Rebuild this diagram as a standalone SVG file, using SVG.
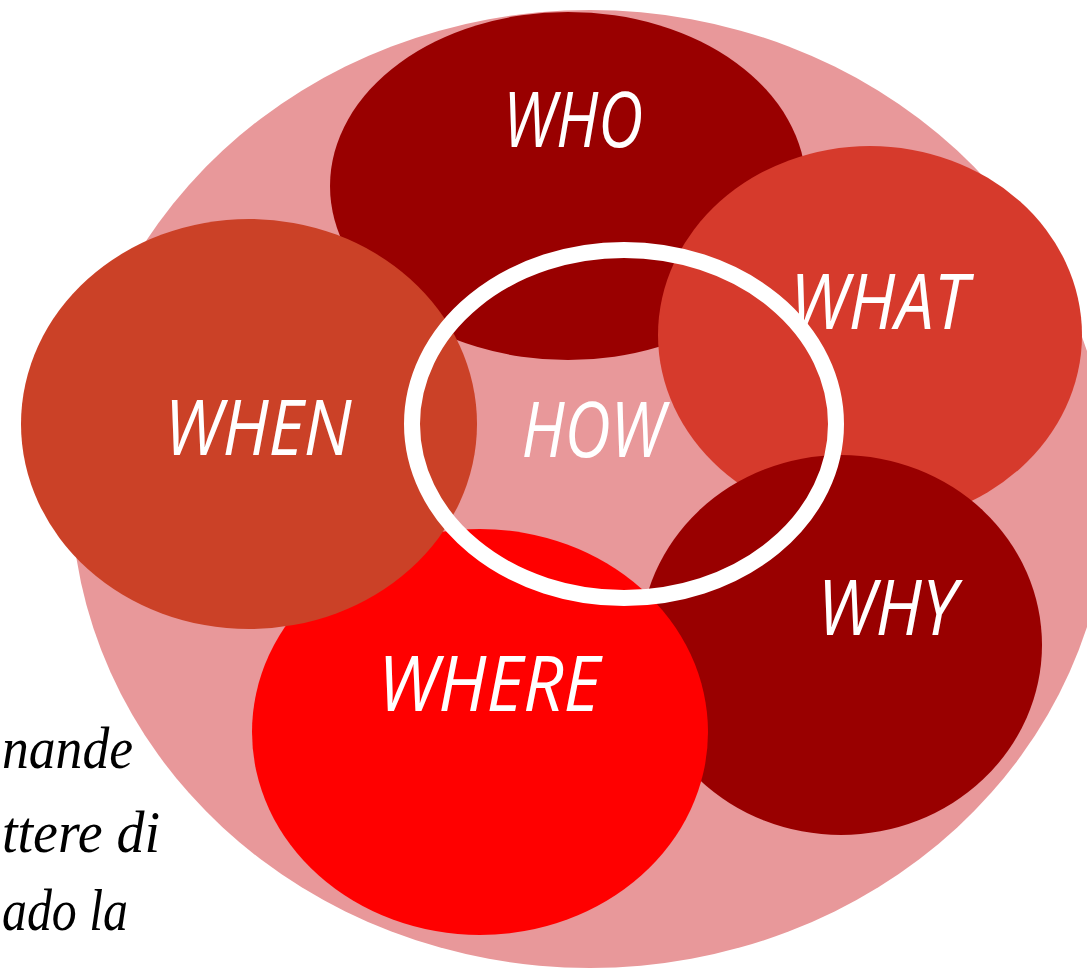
<svg xmlns="http://www.w3.org/2000/svg" width="1087" height="970" viewBox="0 0 1087 970">
<style>
.lbl{font-family:"Open Sans","Liberation Sans",sans-serif;font-style:italic;font-size:76px;fill:#ffffff;text-anchor:middle}
.body{font-family:"Liberation Serif","DejaVu Serif",serif;font-style:italic;font-size:60px;fill:#000000;text-anchor:start}
</style>
<rect width="1087" height="970" fill="#ffffff"/>
<g id="side-text">
<text class="body" x="2" y="768" textLength="131" lengthAdjust="spacingAndGlyphs">nande</text>
<text class="body" x="2" y="852" textLength="158" lengthAdjust="spacingAndGlyphs">ttere di</text>
<text class="body" x="2" y="930" textLength="126" lengthAdjust="spacingAndGlyphs">ado la</text>
</g>
<g id="background">
<ellipse cx="590" cy="489" rx="519" ry="479" fill="#E8989A"/>
</g>
<g id="who">
<ellipse cx="568" cy="186" rx="238" ry="174" fill="#990000"/>
<text class="lbl" x="573" y="147" textLength="140" lengthAdjust="spacingAndGlyphs">WHO</text>
</g>
<g id="what">
<ellipse cx="870" cy="335" rx="212" ry="189" fill="#D63A2C"/>
</g>
<g id="why">
<ellipse cx="841" cy="645" rx="201" ry="190" fill="#990000"/>
<text class="lbl" x="887" y="635" textLength="139" lengthAdjust="spacingAndGlyphs">WHY</text>
</g>
<g id="where">
<ellipse cx="480" cy="732" rx="228" ry="203" fill="#FF0000"/>
<text class="lbl" x="489" y="711" textLength="222" lengthAdjust="spacingAndGlyphs">WHERE</text>
</g>
<g id="when">
<ellipse cx="249" cy="424" rx="228" ry="205" fill="#CB4127"/>
<text class="lbl" x="258" y="455" textLength="187" lengthAdjust="spacingAndGlyphs">WHEN</text>
</g>
<g id="how">
<ellipse cx="624" cy="424" rx="212" ry="174" fill="none" stroke="#ffffff" stroke-width="16"/>
<text class="lbl" x="593" y="457" textLength="143" lengthAdjust="spacingAndGlyphs">HOW</text>
</g>
<g id="what-label">
<text class="lbl" x="879" y="329" textLength="178" lengthAdjust="spacingAndGlyphs">WHAT</text>
</g>
<g id="connectors"/>
</svg>
